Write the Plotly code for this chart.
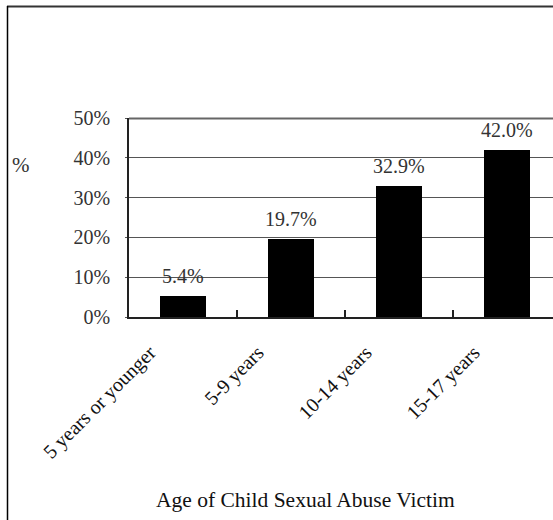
import plotly.graph_objects as go

categories = ["5 years or younger", "5-9 years", "10-14 years", "15-17 years"]
values = [5.4, 19.7, 32.9, 42.0]
y_ticks = [0, 10, 20, 30, 40, 50]
y_tick_text = ["0%", "10%", "20%", "30%", "40%", "50%"]
x_title = "Age of Child Sexual Abuse Victim"
y_title = "%"

W, H = 553, 520
L, R, T, B = 129, 0, 118, 203
pw, ph = W - L - R, H - T - B
cat_px = 108
FONT = "Liberation Serif"
x_range = [-0.5, pw / cat_px - 0.5]

fig = go.Figure(go.Bar(
    x=list(range(len(categories))), y=values,
    marker=dict(color="black", line=dict(width=0)),
    width=0.42,
    cliponaxis=False,
))

for i, v in enumerate(values):
    fig.add_annotation(x=i, y=v, xref="x", yref="y", text=f"{v:.1f}%",
                       showarrow=False, xanchor="center", yanchor="bottom",
                       yshift=7, font=dict(family=FONT, size=20, color="#333"))

fig.update_layout(
    width=W, height=H, margin=dict(l=L, r=R, t=T, b=B),
    plot_bgcolor="white", paper_bgcolor="white", showlegend=False,
    font=dict(family=FONT, size=20, color="#222"),
    bargap=0,
)
fig.update_xaxes(
    range=x_range,
    tickvals=list(range(len(categories))), ticktext=categories,
    tickangle=-45, tickfont=dict(family=FONT, size=20, color="#111"),
    ticklabelshift=-33, ticklabelstandoff=14,
    showgrid=False, showline=True, linecolor="#222", linewidth=2,
    ticks="",
    minor=dict(tickvals=[i + 0.5 for i in range(len(categories))],
               ticks="inside", ticklen=7, tickcolor="#222", tickwidth=1.5,
               showgrid=False),
    zeroline=False,
)
fig.update_yaxes(
    range=[0, 50], tickvals=y_ticks, ticktext=y_tick_text,
    tickfont=dict(family=FONT, size=20, color="#333"),
    showgrid=True, gridcolor="#555", gridwidth=1,
    showline=True, linecolor="#222", linewidth=1.5,
    ticks="outside", ticklen=2, tickcolor="#555",
    ticklabelstandoff=11, zeroline=False,
)

def px_x(px):
    return (px - L) / pw

def px_y(py):
    return (H - B - py) / ph

# top gridline at the 50% tick (drawn explicitly, above the plot layers)
fig.add_shape(type="line", xref="paper", yref="paper", layer="above",
              x0=0, x1=1, y0=px_y(118.5), y1=px_y(118.5),
              line=dict(color="#666", width=2))

fig.add_annotation(x=px_x(305), y=px_y(500), xref="paper", yref="paper",
                   xanchor="center", yanchor="middle",
                   text=x_title, showarrow=False,
                   font=dict(family=FONT, size=21.5, color="#111"))
fig.add_annotation(x=px_x(21), y=px_y(165), xref="paper", yref="paper",
                   xanchor="center", yanchor="middle",
                   text=y_title, showarrow=False,
                   font=dict(family=FONT, size=21, color="#333"))

fig.add_shape(type="line", xref="paper", yref="paper",
              x0=px_x(7), x1=px_x(560), y0=px_y(6.5), y1=px_y(6.5),
              line=dict(color="#333", width=2))
fig.add_shape(type="line", xref="paper", yref="paper",
              x0=px_x(7.5), x1=px_x(7.5), y0=px_y(6), y1=px_y(530),
              line=dict(color="#000", width=1.5))

fig.write_html("out.html")
